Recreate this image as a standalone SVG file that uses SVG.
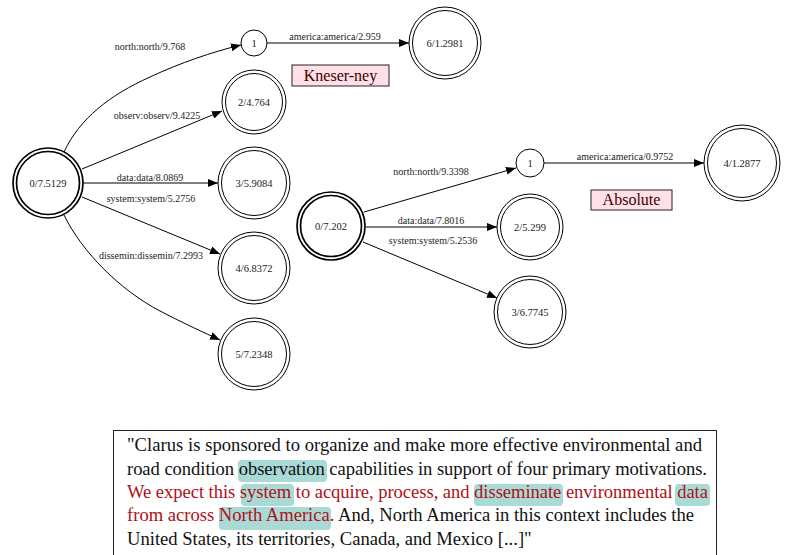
<svg xmlns="http://www.w3.org/2000/svg" width="788" height="555" viewBox="0 0 788 555">
<defs>
<marker id="arr" markerWidth="10" markerHeight="8" refX="10" refY="4" orient="auto" markerUnits="userSpaceOnUse">
<path d="M0,0 L10,4 L0,8 Z" fill="#000"/>
</marker>
<style>
.n{fill:none;stroke:#000;stroke-width:1}
.b{fill:none;stroke:#000;stroke-width:1.7}
.t{font-family:"Liberation Serif",serif;font-size:10.5px;fill:#222;text-anchor:middle}
.e{font-family:"Liberation Serif",serif;font-size:10px;fill:#222;text-anchor:middle}
.c{fill:none;stroke:#000;stroke-width:1;marker-end:url(#arr)}
.lab{fill:#ffe0e6;stroke:#222;stroke-width:1}
.labt{font-family:"Liberation Serif",serif;font-size:16px;fill:#3a0000;text-anchor:middle}
.p{font-family:"Liberation Serif",serif;font-size:18.6px;fill:#111}
.r{fill:#b01018}
.h{fill:#a9dad6}
</style>
</defs>
<rect width="788" height="555" fill="#fff"/>
<g id="connectors">
<path class="c" d="M64,152 C80,118 110,95 150,77 C180,63 212,52 241,45"/>
<text class="e" x="150" y="50">north:north/9.768</text>
<path class="c" d="M267,43 L409,43"/>
<text class="e" x="335" y="40">america:america/2.959</text>
<path class="c" d="M82,169 L222,111"/>
<text class="e" x="157" y="119">observ:observ/9.4225</text>
<path class="c" d="M83,183 L218,183"/>
<text class="e" x="150" y="181">data:data/8.0869</text>
<path class="c" d="M82,197 L220,254"/>
<text class="e" x="151" y="202">system:system/5.2756</text>
<path class="c" d="M64,215 C82,252 120,290 160,311 C185,324 205,333 220,340"/>
<text class="e" x="151" y="259">dissemin:dissemin/7.2993</text>
<path class="c" d="M364,212 L516,168"/>
<text class="e" x="431" y="175">north:north/9.3398</text>
<path class="c" d="M366,227 L497,227"/>
<text class="e" x="431" y="224">data:data/7.8016</text>
<path class="c" d="M363,242 L497,298"/>
<text class="e" x="433" y="244">system:system/5.2536</text>
<path class="c" d="M544,163 L704,163"/>
<text class="e" x="625" y="160">america:america/0.9752</text>
</g>
<g id="kn0"><circle class="b" cx="48" cy="183" r="35"/><circle class="b" cx="48" cy="183" r="31.5"/><text class="t" x="48" y="187">0/7.5129</text></g>
<g id="kn1"><circle class="n" cx="254" cy="43" r="13"/><text class="t" x="254" y="47">1</text></g>
<g id="kn6"><circle class="n" cx="445" cy="43" r="36"/><circle class="n" cx="445" cy="43" r="32.5"/><text class="t" x="445" y="47">6/1.2981</text></g>
<g id="kn2"><circle class="n" cx="254" cy="102" r="32"/><circle class="n" cx="254" cy="102" r="28.5"/><text class="t" x="254" y="106">2/4.764</text></g>
<g id="kn3"><circle class="n" cx="254" cy="183" r="36"/><circle class="n" cx="254" cy="183" r="32.5"/><text class="t" x="254" y="187">3/5.9084</text></g>
<g id="kn4"><circle class="n" cx="254" cy="268" r="36"/><circle class="n" cx="254" cy="268" r="32.5"/><text class="t" x="254" y="272">4/6.8372</text></g>
<g id="kn5"><circle class="n" cx="254" cy="354" r="36"/><circle class="n" cx="254" cy="354" r="32.5"/><text class="t" x="254" y="358">5/7.2348</text></g>
<g id="kneser"><rect class="lab" x="292" y="65" width="97" height="21"/><text class="labt" x="340.5" y="81">Kneser-ney</text></g>
<g id="ab0"><circle class="b" cx="331" cy="226" r="34"/><circle class="b" cx="331" cy="226" r="30.5"/><text class="t" x="331" y="230">0/7.202</text></g>
<g id="ab1"><circle class="n" cx="530" cy="163" r="14"/><text class="t" x="530" y="167">1</text></g>
<g id="ab4"><circle class="n" cx="742" cy="163" r="38"/><circle class="n" cx="742" cy="163" r="34.5"/><text class="t" x="742" y="167">4/1.2877</text></g>
<g id="ab2"><circle class="n" cx="530" cy="227" r="33"/><circle class="n" cx="530" cy="227" r="29.5"/><text class="t" x="530" y="231">2/5.299</text></g>
<g id="ab3"><circle class="n" cx="530" cy="312" r="36"/><circle class="n" cx="530" cy="312" r="32.5"/><text class="t" x="530" y="316">3/6.7745</text></g>
<g id="absolute"><rect class="lab" x="591" y="190" width="81" height="20"/><text class="labt" x="631.5" y="205">Absolute</text></g>
<g id="quote">
<rect x="113.5" y="430.5" width="603" height="130" fill="#fff" stroke="#222" stroke-width="1"/>
<rect class="h" x="238" y="460" width="89" height="22" rx="4"/>
<rect class="h" x="241" y="484" width="53" height="22" rx="4"/>
<rect class="h" x="474" y="484" width="89" height="22" rx="4"/>
<rect class="h" x="675" y="484" width="35" height="22" rx="4"/>
<rect class="h" x="219" y="507" width="112" height="23" rx="4"/>
<text class="p" x="127" y="451" textLength="575" lengthAdjust="spacing">"Clarus is sponsored to organize and make more effective environmental and</text>
<text class="p" x="127" y="475" textLength="580" lengthAdjust="spacing">road condition observation capabilities in support of four primary motivations.</text>
<text class="p r" x="127" y="498" textLength="581" lengthAdjust="spacing">We expect this system to acquire, process, and disseminate environmental data</text>
<text class="p" x="127" y="521" textLength="567" lengthAdjust="spacing"><tspan class="r">from across North America.</tspan> And, North America in this context includes the</text>
<text class="p" x="127" y="545">United States, its territories, Canada, and Mexico [...]"</text>
</g>
</svg>
